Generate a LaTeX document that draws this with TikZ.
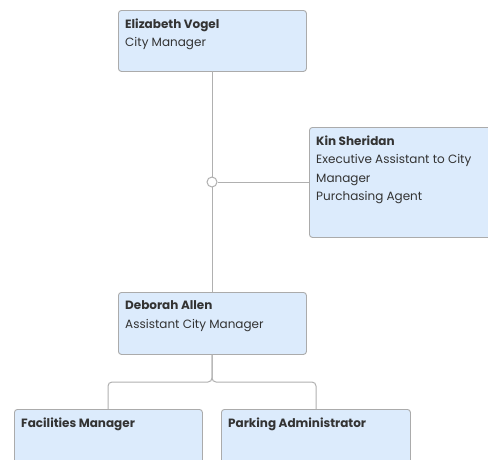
\documentclass[tikz,border=0pt]{standalone}
\usepackage{fontspec}
\setmainfont{Poppins}
\definecolor{boxfill}{HTML}{DCEBFC}
\definecolor{boxline}{HTML}{ABABAB}
\definecolor{conn}{HTML}{B0B0B0}
\definecolor{txt}{HTML}{333333}
\begin{document}
\begin{tikzpicture}[x=1pt,y=-1pt,
  card/.style={draw=boxline,fill=boxfill,line width=0.9pt,rounded corners=3pt,anchor=north west,inner sep=0pt},
  lbl/.style={anchor=north west,inner sep=0pt,align=left,text=txt,font=\fontsize{12}{18.5}\selectfont},
  wire/.style={draw=conn,line width=1pt}]
\useasboundingbox (0,0) rectangle (488,459);
\clip (0,0) rectangle (488,459);
\fill[white] (0,0) rectangle (488,459);
% boxes
\node[card,minimum width=188pt,minimum height=61pt] (ev) at (118,10) {};
\node[card,minimum width=200pt,minimum height=110pt] (ks) at (309,127) {};
\node[card,minimum width=188pt,minimum height=62pt] (da) at (118,292) {};
\node[card,minimum width=188pt,minimum height=80pt] (fm) at (14,409) {};
\node[card,minimum width=189pt,minimum height=80pt] (pa) at (221,409) {};
% connectors
\coordinate (evb) at (212,71);
\coordinate (dat) at (212,292);
\coordinate (split) at (212,382);
\draw[wire] (evb) -- (dat);
\node[circle,draw=conn,fill=white,line width=1pt,minimum size=10pt,inner sep=0pt] (j) at (212,182) {};
\draw[wire] (j.east) -- (j.east -| ks.west);
\coordinate (dab) at (212,354);
\coordinate (fmt) at (108,409);
\coordinate (pat) at (316,409);
\draw[wire,rounded corners=4pt] (dab) -- (split) -| (fmt);
\draw[wire,rounded corners=4pt] (dab) -- (split) -| (pat);
% texts
\node[lbl] (evt) at (125,18.5) {\textbf{Elizabeth Vogel}\\City Manager};
\node[lbl] (kst) at (316,135.5) {\textbf{Kin Sheridan}\\Executive Assistant to City\\Manager\\Purchasing Agent};
\node[lbl] (dat2) at (125,300.5) {\textbf{Deborah Allen}\\Assistant City Manager};
\node[lbl] (fmt2) at (21,417.5) {\textbf{Facilities Manager}};
\node[lbl] (pat2) at (228,417.5) {\textbf{Parking Administrator}};
\end{tikzpicture}
\end{document}
